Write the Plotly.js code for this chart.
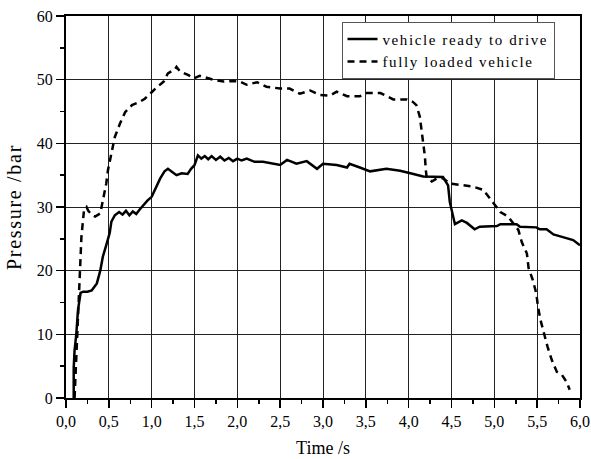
<!DOCTYPE html>
<html>
<head>
<meta charset="utf-8">
<script src="https://cdn.plot.ly/plotly-3.0.1.min.js"></script>
<style>
html,body{margin:0;padding:0;background:#fff;}
#chart{width:591px;height:459px;}
.legendtext{letter-spacing:1.6px;}
.ytitle{letter-spacing:1.7px;}
</style>
</head>
<body>
<div id="chart"></div>
<script>
// vehicle ready to drive (solid)
const readyTime = [0.09, 0.09, 0.10, 0.12, 0.14, 0.17, 0.20, 0.25, 0.30, 0.33,
  0.36, 0.40, 0.43, 0.47, 0.51, 0.53, 0.57, 0.62, 0.66, 0.70,
  0.74, 0.78, 0.82, 0.86, 0.90, 0.95, 1.00, 1.05, 1.10, 1.15,
  1.19, 1.24, 1.29, 1.35, 1.42, 1.46, 1.50, 1.54, 1.58, 1.62,
  1.66, 1.70, 1.75, 1.80, 1.85, 1.90, 1.95, 2.00, 2.05, 2.11,
  2.20, 2.30, 2.40, 2.50, 2.58, 2.69, 2.81, 2.93, 3.00, 3.16,
  3.28, 3.31, 3.43, 3.55, 3.74, 3.90, 4.02, 4.17, 4.40, 4.46,
  4.48, 4.52, 4.54, 4.62, 4.68, 4.77, 4.83, 5.03, 5.07, 5.26,
  5.30, 5.49, 5.53, 5.61, 5.69, 5.79, 5.92, 6.00];
const readyPressure = [0, 4.7, 7.5, 10, 13.8, 16.5, 16.7, 16.7, 16.9, 17.5,
  18, 20, 22.2, 24, 25.9, 27.7, 28.7, 29.2, 28.8, 29.4,
  28.7, 29.3, 28.9, 29.6, 30.3, 31, 31.6, 33, 34.5, 35.6,
  36, 35.5, 35, 35.3, 35.2, 36, 36.6, 38.1, 37.6, 38,
  37.5, 38, 37.4, 37.9, 37.3, 37.7, 37.2, 37.6, 37.3, 37.6,
  37.1, 37.1, 36.8, 36.6, 37.4, 36.8, 37.2, 36, 36.8, 36.6,
  36.2, 36.8, 36.2, 35.6, 36.0, 35.7, 35.3, 34.8, 34.7, 33.4,
  30.8, 28.5, 27.3, 27.9, 27.5, 26.5, 26.9, 27.0, 27.3, 27.3,
  26.9, 26.8, 26.5, 26.5, 25.7, 25.3, 24.8, 24];

// fully loaded vehicle (dashed)
const loadedTime = [0.10, 0.11, 0.125, 0.144, 0.163, 0.18, 0.21, 0.24, 0.26, 0.30,
  0.34, 0.40, 0.43, 0.47, 0.49, 0.52, 0.53, 0.57, 0.63, 0.69,
  0.77, 0.86, 0.92, 0.98, 1.06, 1.14, 1.19, 1.27, 1.29, 1.33,
  1.43, 1.49, 1.56, 1.64, 1.72, 1.84, 1.95, 2.03, 2.11, 2.23,
  2.34, 2.50, 2.61, 2.73, 2.85, 2.96, 3.08, 3.16, 3.28, 3.43,
  3.51, 3.67, 3.82, 3.98, 4.05, 4.09, 4.13, 4.15, 4.17, 4.19,
  4.20, 4.21, 4.27, 4.33, 4.40, 4.48, 4.64, 4.75, 4.87, 4.99,
  5.07, 5.16, 5.28, 5.32, 5.38, 5.40, 5.45, 5.49, 5.51, 5.54,
  5.58, 5.62, 5.67, 5.73, 5.79, 5.84, 5.88];
const loadedPressure = [0, 3, 7.5, 13.8, 18, 25.3, 29.5, 30, 29.4, 28.8,
  28.5, 29, 31, 33.7, 35.8, 37.9, 38.7, 41, 43.1, 44.9,
  46, 46.5, 47, 47.8, 48.8, 49.7, 51, 51.6, 52, 51.3,
  50.7, 50.2, 50.6, 50.3, 50, 49.7, 49.8, 49.7, 49.2, 49.6,
  48.9, 48.6, 48.6, 47.8, 48.3, 47.6, 47.5, 48.1, 47.4, 47.4,
  47.9, 47.9, 46.9, 46.9, 46.5, 46, 44.2, 42.1, 40, 37.9,
  35.8, 34.7, 34, 34.5, 34.5, 33.7, 33.4, 33.2, 32.7, 30.6,
  29.2, 28.5, 26.4, 24.5, 22.7, 20.4, 18.5, 16.4, 14.3, 12.2,
  9.9, 8.1, 6, 4.1, 3.6, 2.6, 1.3];

const seriesNames = ['vehicle ready to drive', 'fully loaded vehicle'];
const xTitle = 'Time /s';
const yTitle = 'Pressure /bar';

const serif = 'Liberation Serif';

const traces = [
  {x: readyTime, y: readyPressure, name: seriesNames[0], mode: 'lines', type: 'scatter',
   line: {color: '#000', width: 2.5, shape: 'linear'}},
  {x: loadedTime, y: loadedPressure, name: seriesNames[1], mode: 'lines', type: 'scatter',
   line: {color: '#000', width: 2.5, dash: '7px,5px'}}
];

function axisBase() {
  return {
    showline: true, linecolor: '#000', linewidth: 2, mirror: true,
    ticks: 'outside', ticklen: 8, tickwidth: 1.5, tickcolor: '#000',
    showgrid: true, gridcolor: '#222', gridwidth: 1, zeroline: false,
    tickfont: {family: serif, size: 16, color: '#000'}
  };
}

const layout = {
  width: 591, height: 459,
  margin: {l: 66, r: 11, t: 16, b: 61},
  paper_bgcolor: '#fff', plot_bgcolor: '#fff',
  separators: ',.',
  showlegend: true,
  font: {family: serif, color: '#000'},
  legend: {x: 0.536, y: 0.985, xanchor: 'left', yanchor: 'top',
    bordercolor: '#555', borderwidth: 1, bgcolor: '#fff',
    font: {family: serif, size: 15, color: '#000'},
    tracegroupgap: 0, itemwidth: 30},
  xaxis: Object.assign(axisBase(), {
    range: [0, 6], dtick: 0.5, tick0: 0, tickformat: '.1f',
    minor: {dtick: 0.25, ticklen: 4, tickcolor: '#000', ticks: 'outside', showgrid: false},
    title: {text: xTitle, font: {family: serif, size: 18, color: '#000'}, standoff: 12}
  }),
  yaxis: Object.assign(axisBase(), {
    range: [0, 60], dtick: 10, tick0: 0,
    minor: {dtick: 5, ticklen: 4, tickcolor: '#000', ticks: 'outside', showgrid: false},
    title: {text: yTitle, font: {family: serif, size: 20, color: '#000'}, standoff: 10}
  })
};

Plotly.newPlot('chart', traces, layout, {displayModeBar: false, staticPlot: true});
</script>
</body>
</html>
